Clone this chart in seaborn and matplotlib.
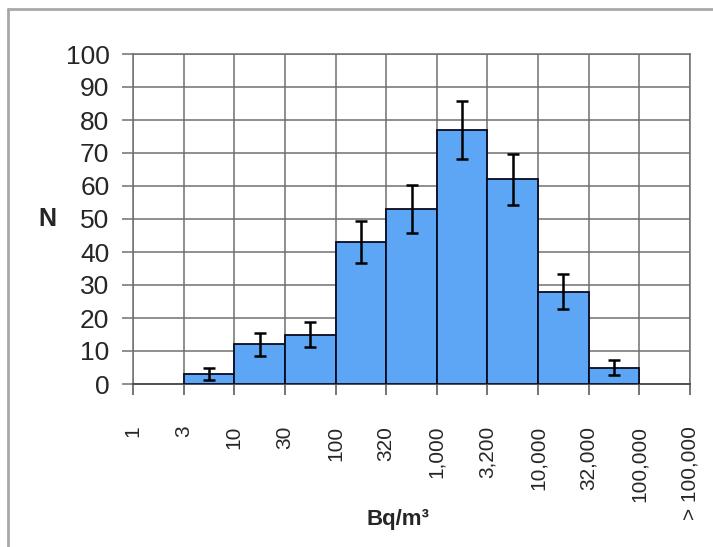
import matplotlib
matplotlib.use("Agg")
import matplotlib.pyplot as plt
import seaborn as sns
import pandas as pd
from matplotlib.lines import Line2D

# ---- data ----
edge_labels = ["1", "3", "10", "30", "100", "320", "1,000", "3,200",
               "10,000", "32,000", "100,000", "> 100,000"]
bin_order = ["1-3", "3-10", "10-30", "30-100", "100-320", "320-1000",
             "1000-3200", "3200-10000", "10000-32000", "32000-100000", ">100000"]
data_bins = ["3-10", "10-30", "30-100", "100-320", "320-1000",
             "1000-3200", "3200-10000", "10000-32000", "32000-100000"]
counts = [3, 12, 15, 43, 53, 77, 62, 28, 5]
errors = [1.8, 3.4, 3.85, 6.4, 7.25, 8.75, 7.75, 5.3, 2.4]
y_ticks = [0, 10, 20, 30, 40, 50, 60, 70, 80, 90, 100]

df = pd.DataFrame({"bin": data_bins, "N": counts, "err": errors})

sns.set_style("white")
plt.rcParams["font.family"] = ["Liberation Sans", "DejaVu Sans"]

fig = plt.figure(figsize=(7.13, 5.47), dpi=100)
ax = fig.add_axes([133 / 713, 1 - 384 / 547, (690 - 133) / 713, (384 - 54) / 547])

sns.barplot(data=df, x="bin", y="N", order=bin_order, color="#5DA6F5",
            saturation=1, width=1.0, edgecolor="#0a0a1e", linewidth=1.3,
            errorbar=None, ax=ax, zorder=3)

pos = [bin_order.index(b) for b in df["bin"]]
ax.errorbar(pos, df["N"], yerr=df["err"], fmt="none", ecolor="black",
            elinewidth=1.8, capsize=4.5, capthick=1.8, zorder=4)

n = len(bin_order)
ax.set_xlim(-0.5, n - 0.5)
ax.set_ylim(0, 100)
ax.set_xticks([i - 0.5 for i in range(len(edge_labels))])
ax.set_xticklabels(edge_labels, rotation=90, fontsize=15, va="top", ha="center")
ax.set_yticks(y_ticks)
ax.set_yticklabels([str(v) for v in y_ticks], fontsize=19)

ax.grid(True, color="#707070", linewidth=1.1, zorder=0)
ax.set_axisbelow(True)
for s in ax.spines.values():
    s.set_color("#707070")
    s.set_linewidth(1.1)
ax.spines["bottom"].set_color("#505050")
ax.spines["bottom"].set_linewidth(1.4)
ax.tick_params(axis="x", direction="out", length=8, width=1.1, color="#505050",
               pad=22, bottom=True)
ax.tick_params(axis="y", direction="out", length=8, width=1.1, color="#707070",
               pad=9, left=True)

ax.set_xlabel("Bq/m\u00b3", fontsize=16, fontweight="bold")
ax.xaxis.set_label_coords(0.476, -0.38)
ax.set_ylabel("N", fontsize=18, fontweight="bold", rotation=0, va="center", ha="center")
ax.yaxis.set_label_coords(-0.153, 0.5)

# outer chart frame (cropped at right/bottom)
x0 = 8 / 713
y0 = 1 - 9 / 547
fig.add_artist(Line2D([x0, x0], [0, y0], transform=fig.transFigure,
                      color="#A8A8A8", linewidth=2))
fig.add_artist(Line2D([x0, 1], [y0, y0], transform=fig.transFigure,
                      color="#A8A8A8", linewidth=2))

fig.savefig("out.png", dpi=100)
